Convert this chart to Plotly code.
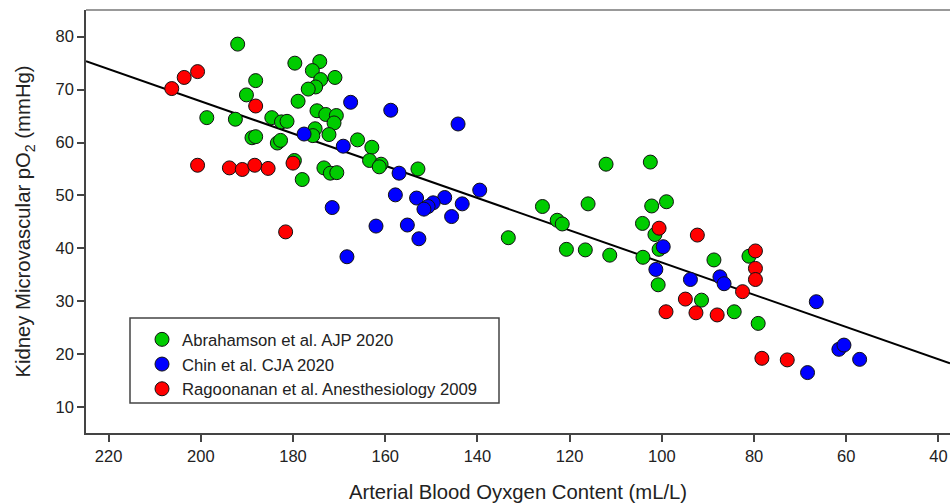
import plotly.graph_objects as go

# ---------------- data ----------------
green_name = "Abrahamson et al. AJP 2020"
green_x = [192.0, 188.1, 190.1, 198.7, 192.5, 184.6, 182.5, 181.3, 188.9, 188.1,
           183.4, 182.7, 179.7, 178.0, 179.6, 174.2, 175.8, 170.9, 174.0, 175.1,
           176.7, 178.9, 174.8, 172.9, 170.6, 171.1, 175.2, 175.7, 172.2, 166.0,
           162.9, 163.4, 160.9, 161.3, 173.3, 171.9, 170.5, 152.9, 133.3, 125.9,
           116.0, 122.7, 121.6, 120.7, 116.6, 112.1, 111.3, 102.5, 102.2, 99.0,
           104.2, 101.5, 100.6, 104.1, 100.8, 88.7, 81.1, 91.4, 84.3, 79.1]
green_y = [78.6, 71.7, 69.0, 64.7, 64.4, 64.7, 63.9, 64.0, 60.9, 61.1,
           59.9, 60.4, 56.6, 53.0, 75.0, 75.3, 73.6, 72.3, 71.9, 70.5,
           70.1, 67.8, 66.0, 65.3, 65.1, 63.7, 62.6, 61.3, 61.5, 60.5,
           59.1, 56.6, 55.9, 55.4, 55.2, 54.2, 54.3, 55.0, 42.0, 47.9,
           48.4, 45.3, 44.6, 39.8, 39.7, 55.9, 38.7, 56.3, 48.0, 48.8,
           44.7, 42.6, 39.8, 38.3, 33.1, 37.8, 38.5, 30.2, 28.0, 25.8]

blue_name = "Chin et al. CJA 2020"
blue_x = [177.6, 167.5, 158.8, 144.2, 169.1, 157.0, 139.5, 157.8, 153.2, 147.1,
          143.3, 149.6, 150.7, 151.6, 145.6, 171.5, 162.0, 155.2, 152.7, 168.3,
          99.7, 101.3, 93.8, 87.4, 86.5, 66.5, 61.6, 60.5, 57.1, 68.4]
blue_y = [61.6, 67.6, 66.1, 63.5, 59.3, 54.2, 51.0, 50.1, 49.5, 49.6,
          48.4, 48.6, 47.9, 47.4, 46.0, 47.7, 44.2, 44.4, 41.8, 38.4,
          40.3, 36.0, 34.1, 34.6, 33.3, 29.9, 20.9, 21.7, 19.0, 16.5]

red_name = "Ragoonanan et al. Anesthesiology 2009"
red_x = [206.3, 203.6, 200.7, 188.1, 200.7, 193.8, 191.0, 188.3, 185.4, 180.0,
         181.6, 100.6, 92.3, 79.7, 79.7, 79.7, 82.5, 94.9, 99.1, 92.6,
         88.0, 78.3, 72.8]
red_y = [70.2, 72.3, 73.4, 66.9, 55.7, 55.2, 54.9, 55.7, 55.1, 56.1,
         43.1, 43.8, 42.5, 39.5, 36.2, 34.1, 31.8, 30.4, 28.0, 27.8,
         27.4, 19.2, 18.9]

# regression line parameters
fit_slope = 0.3048
fit_intercept = 6.83

x_ticks = [220, 200, 180, 160, 140, 120, 100, 80, 60, 40]
y_ticks = [10, 20, 30, 40, 50, 60, 70, 80]

x_range = [224.9, 37.5]
y_range = [5.08, 85.05]

x_title = "Arterial Blood Oyxgen Content (mL/L)"
y_title = "Kidney Microvascular pO<sub>2</sub> (mmHg)"

# ---------------- figure ----------------
FONT = "Liberation Sans, Arial, sans-serif"
TXT = "#222222"
AX = "#444444"

fig = go.Figure()

fit_x = [x_range[0], x_range[1]]
fit_y = [fit_intercept + fit_slope * v for v in fit_x]
fig.add_trace(go.Scatter(x=fit_x, y=fit_y, mode="lines",
                         line=dict(color="black", width=2),
                         showlegend=False, hoverinfo="skip"))

for name, xs, ys, col in [(green_name, green_x, green_y, "#00CC00"),
                          (blue_name, blue_x, blue_y, "#0000FF"),
                          (red_name, red_x, red_y, "#FF0000")]:
    fig.add_trace(go.Scatter(x=xs, y=ys, mode="markers", name=name,
                             marker=dict(color=col, size=14,
                                         line=dict(color="#111111", width=1))))

W, H = 950, 504
L, R, T, B = 86, 0, 10, 71
pw, ph = W - L - R, H - T - B

def px2paper_x(px):
    return (px - L) / pw

def px2paper_y(py):
    return (H - B - py) / ph

fig.update_layout(
    width=W, height=H,
    margin=dict(l=L, r=R, t=T, b=B, autoexpand=False),
    paper_bgcolor="white", plot_bgcolor="white",
    font=dict(family=FONT, size=16, color=TXT),
    showlegend=True,
    legend=dict(x=px2paper_x(142), y=px2paper_y(322), xanchor="left", yanchor="top",
                bgcolor="rgba(0,0,0,0)", borderwidth=0,
                font=dict(family=FONT, size=16.7, color=TXT),
                itemsizing="trace"),
    xaxis=dict(range=x_range, tickvals=x_ticks, ticks="outside", ticklen=7,
               tickwidth=1.5, tickcolor=AX, showline=True, linecolor=AX,
               linewidth=1.5, showgrid=False, zeroline=False,
               tickfont=dict(size=16.5, color=TXT),
               title=dict(text=x_title, font=dict(size=20.3, color=TXT), standoff=21)),
    yaxis=dict(range=y_range, tickvals=y_ticks, ticks="outside", ticklen=7,
               tickwidth=1.5, tickcolor=AX, showline=True, linecolor=AX,
               linewidth=1.5, showgrid=False, zeroline=False,
               tickfont=dict(size=16.5, color=TXT),
               title=dict(text=y_title, font=dict(size=20.3, color=TXT), standoff=19)),
    shapes=[
        dict(type="line", xref="paper", yref="paper", x0=0, x1=1, y0=1, y1=1,
             line=dict(color="#999999", width=2)),
        dict(type="rect", xref="paper", yref="paper",
             x0=px2paper_x(130), x1=px2paper_x(499),
             y0=px2paper_y(403), y1=px2paper_y(318),
             line=dict(color=AX, width=1.5), fillcolor="white", layer="below"),
    ],
)

fig.write_html("out.html")
